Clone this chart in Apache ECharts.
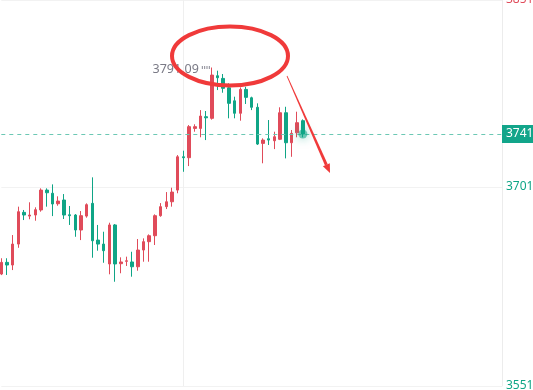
<!DOCTYPE html>
<html>
<head>
<meta charset="utf-8">
<script src="https://cdn.jsdelivr.net/npm/echarts@6/dist/echarts.min.js"></script>
<style>html,body{margin:0;padding:0;background:#fff;}#c{width:533px;height:390px;}</style>
</head>
<body>
<div id="c"></div>
<script>
const opens = [3635.4, 3644.2, 3642.2, 3658.0, 3681.9, 3679.1, 3679.9, 3683.7, 3698.7, 3696.3, 3688.4, 3691.2, 3680.1, 3679.9, 3668.6, 3679.1, 3688.7, 3661.0, 3658.0, 3643.0, 3672.4, 3643.2, 3645.0, 3644.5, 3640.9, 3653.5, 3659.8, 3664.3, 3679.4, 3686.2, 3689.9, 3698.7, 3723.8, 3723.1, 3745.2, 3745.2, 3754.0, 3752.8, 3784.9, 3782.9, 3775.8, 3766.0, 3756.6, 3774.6, 3768.3, 3761.1, 3733.9, 3737.4, 3735.9, 3737.0, 3757.0, 3734.4, 3741.9, 3751.0];
const closes = [3644.2, 3642.2, 3658.0, 3682.4, 3679.9, 3679.9, 3683.9, 3698.7, 3696.7, 3688.2, 3690.4, 3679.9, 3679.4, 3668.6, 3679.4, 3687.7, 3660.5, 3658.0, 3653.0, 3672.4, 3643.0, 3644.5, 3645.4, 3640.9, 3653.5, 3659.8, 3664.3, 3679.4, 3686.2, 3689.9, 3697.2, 3723.8, 3723.1, 3746.5, 3746.5, 3754.5, 3753.2, 3785.4, 3783.4, 3775.4, 3764.1, 3756.6, 3774.6, 3768.6, 3761.1, 3733.4, 3736.4, 3736.4, 3738.9, 3757.0, 3734.4, 3741.5, 3749.5, 3741.0];
const lows = [3634.6, 3634.7, 3638.4, 3655.2, 3676.1, 3676.7, 3675.6, 3682.4, 3686.2, 3679.1, 3686.9, 3676.9, 3672.4, 3663.5, 3661.0, 3677.9, 3647.7, 3653.0, 3643.9, 3635.2, 3629.6, 3636.0, 3641.5, 3633.4, 3637.9, 3644.7, 3644.7, 3657.3, 3678.6, 3684.4, 3686.2, 3696.3, 3712.5, 3716.8, 3742.7, 3738.5, 3736.4, 3751.8, 3774.1, 3772.1, 3752.8, 3752.8, 3751.0, 3763.6, 3759.0, 3732.7, 3718.9, 3732.7, 3729.6, 3736.4, 3722.6, 3723.8, 3738.5, 3738.5];
const highs = [3647.3, 3647.3, 3664.8, 3686.2, 3683.7, 3689.5, 3685.7, 3700.0, 3700.0, 3703.0, 3694.0, 3695.7, 3686.7, 3680.6, 3682.9, 3688.7, 3708.3, 3672.4, 3667.3, 3674.1, 3673.1, 3648.0, 3648.5, 3652.2, 3661.8, 3662.3, 3665.3, 3680.4, 3688.9, 3697.2, 3700.5, 3725.1, 3728.4, 3747.7, 3748.3, 3759.0, 3758.3, 3791.09, 3788.7, 3786.2, 3779.2, 3769.1, 3776.1, 3776.6, 3769.1, 3764.1, 3737.7, 3751.5, 3742.7, 3761.1, 3761.5, 3744.0, 3757.8, 3752.0];
const yTicks = [3551, 3701, 3851];
const totalSlots = 89;
const gridLineIndex = 32;

const categories = [];
for (let i = 0; i < totalSlots; i++) categories.push(String(i + 1));
const kData = opens.map((o, i) => [o, closes[i], lows[i], highs[i]]);
const lastIdx = closes.length - 1;
const lastClose = closes[lastIdx];

const RED = '#e04b5a';
const GREEN = '#0fa586';
const FONT = '"Noto Sans", sans-serif';

const chart = echarts.init(document.getElementById('c'));

// arrow geometry (annotation)
const ax0 = 287, ay0 = 76, ax1 = 330, ay1 = 173;
const dl = Math.hypot(ax1 - ax0, ay1 - ay0);
const dx = (ax1 - ax0) / dl, dy = (ay1 - ay0) / dl;
const px = -dy, py = dx;
const bx = ax1 - 9 * dx, by = ay1 - 9 * dy;

chart.setOption({
  animation: false,
  backgroundColor: '#fff',
  grid: { left: 1.3, right: 31, top: 0, bottom: 4, outerBoundsMode: 'none', containLabel: false },
  xAxis: {
    type: 'category',
    data: categories,
    boundaryGap: false,
    axisLine: { show: false },
    axisTick: { show: false },
    axisLabel: { show: false },
    splitLine: { show: true, interval: (i) => i === gridLineIndex, lineStyle: { color: '#efefef', width: 1 } }
  },
  yAxis: {
    type: 'value',
    position: 'right',
    min: yTicks[0],
    max: 3842,
    interval: yTicks[1] - yTicks[0],
    axisLine: { show: true, lineStyle: { color: '#ececec' } },
    axisTick: { show: false },
    splitLine: { show: true, lineStyle: { color: '#f2f2f2' } },
    axisLabel: {
      showMaxLabel: false,
      margin: 4,
      fontSize: 12,
      fontFamily: FONT,
      formatter: (v) => String(v),
      color: (v) => (v > lastClose ? RED : GREEN)
    }
  },
  series: [
    {
      type: 'candlestick',
      data: kData,
      barWidth: 3,
      itemStyle: { color: RED, color0: GREEN, borderColor: RED, borderColor0: GREEN, borderWidth: 1 },
      markLine: {
        silent: true,
        symbol: 'none',
        data: [{ yAxis: lastClose }],
        lineStyle: { type: [4, 4], color: '#6cc8b4', width: 1, opacity: 1 },
        label: {
          position: 'end',
          distance: 0,
          formatter: (p) => String(Math.round(p.value)),
          backgroundColor: '#12a58a',
          color: '#fff',
          fontSize: 12,
          fontFamily: FONT,
          padding: [3, 5, 3, 4]
        }
      },
      markPoint: {
        silent: true,
        symbol: 'path://M0,0h1v3h-1zM2.3,0h1v3h-1zM4.6,0h1v3h-1zM6.9,0h1v3h-1z',
        symbolSize: [8, 3],
        symbolOffset: [-6, 0],
        itemStyle: { color: '#8a8a95' },
        data: [{ type: 'max', valueDim: 'highest' }],
        label: {
          show: true,
          position: 'left',
          distance: 3,
          offset: [0, 2],
          formatter: (p) => p.value.toFixed(2),
          color: '#7a7a86',
          fontSize: 12.5,
          fontFamily: FONT
        }
      }
    },
    {
      type: 'scatter',
      data: [[categories[lastIdx], lastClose]],
      symbolSize: 9,
      itemStyle: { color: 'rgba(15,165,134,0.7)', shadowBlur: 10, shadowColor: 'rgba(15,165,134,0.9)' },
      silent: true,
      z: 5
    }
  ],
  graphic: [
    {
      type: 'text',
      x: 506, y: 0,
      style: { text: String(yTicks[2]), fill: RED, fontSize: 12, fontFamily: FONT, verticalAlign: 'middle', align: 'left' }
    },
    {
      type: 'ellipse',
      shape: { cx: 230, cy: 56, rx: 58, ry: 29.5 },
      style: { fill: 'none', stroke: '#f03a3a', lineWidth: 4 },
      z: 100
    },
    {
      type: 'polygon',
      shape: { points: [
        [ax0 - 0.4 * px, ay0 - 0.4 * py], [ax0 + 0.4 * px, ay0 + 0.4 * py],
        [bx + 1.5 * px, by + 1.5 * py], [bx - 1.5 * px, by - 1.5 * py]
      ] },
      style: { fill: '#f03a3a' },
      z: 100
    },
    {
      type: 'polygon',
      shape: { points: [[ax1, ay1], [bx + 3.8 * px, by + 3.8 * py], [bx - 3.8 * px, by - 3.8 * py]] },
      style: { fill: '#f03a3a' },
      z: 100
    }
  ]
});
</script>
</body>
</html>
